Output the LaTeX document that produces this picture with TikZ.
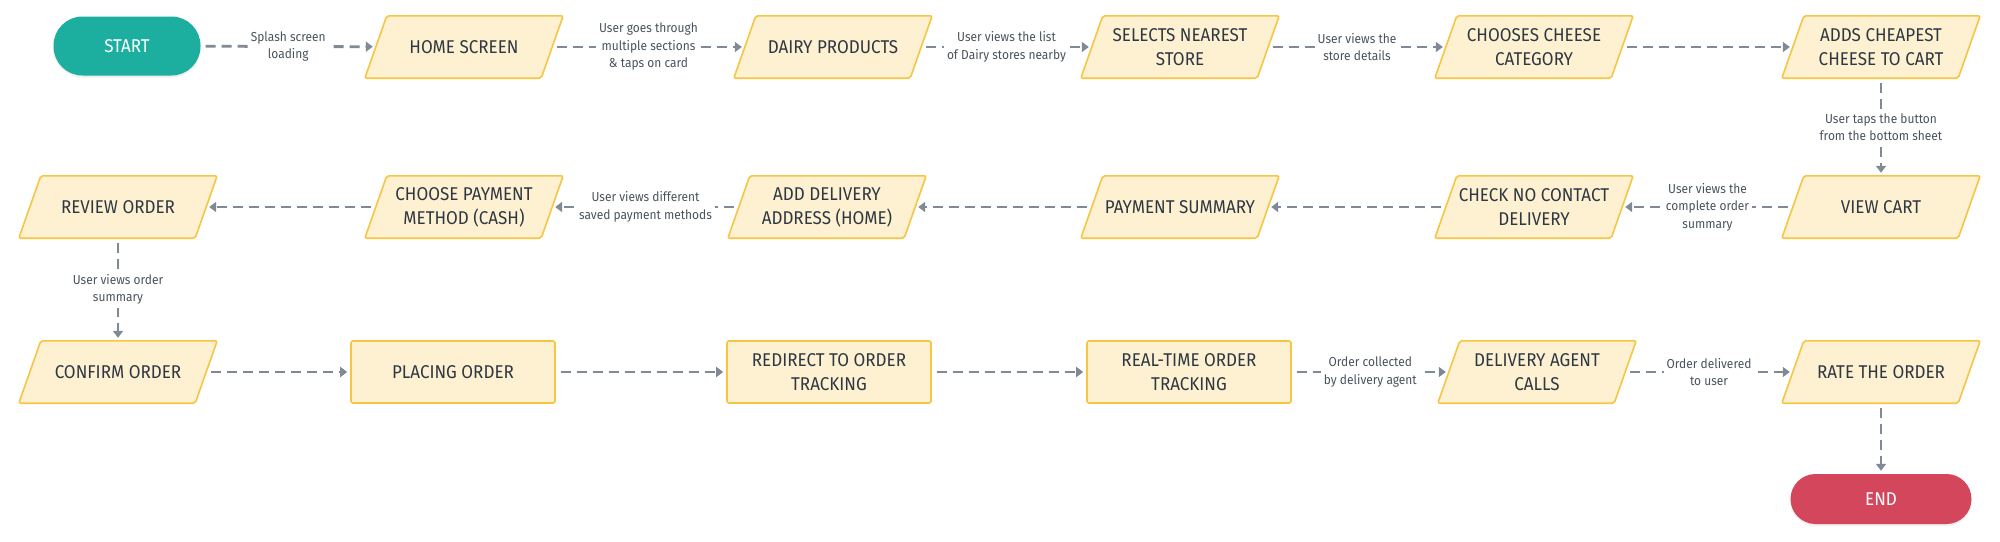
\documentclass[tikz,border=0pt]{standalone}
\usepackage{fontspec}
\setmainfont{Fira Sans}[FakeStretch=0.92]
\usetikzlibrary{arrows.meta,backgrounds,calc,shadows}
\definecolor{boxfill}{HTML}{FDF1D2}
\definecolor{boxline}{HTML}{F6C544}
\definecolor{startc}{HTML}{1CAE9E}
\definecolor{endc}{HTML}{D4465B}
\definecolor{arrowc}{HTML}{7F8A96}
\definecolor{txt}{HTML}{2E3742}
\definecolor{lbl}{HTML}{4A545E}
\begin{document}
\begin{tikzpicture}[x=1pt,y=-1pt,
 base/.style={font=\fontsize{18.5}{24}\selectfont, text=txt, align=center, minimum height=62pt, inner sep=0pt},
 para/.style={base, minimum width=176pt},
 rectbox/.style={base, draw=boxline, fill=boxfill, line width=1.6pt, rounded corners=2pt, minimum width=204pt},
 term/.style={base, text=white, drop shadow={shadow xshift=0pt, shadow yshift=-2pt, opacity=0.12}},
 paraedge/.style={draw=boxline, fill=boxfill, line width=1.6pt, rounded corners=2pt},
 flow/.style={draw=arrowc, line width=2.8pt, dash pattern=on 10pt off 6pt, -{Triangle[width=10pt,length=7pt]}, shorten <=5pt, shorten >=3pt},
 elbl/.style={fill=white, font=\fontsize{13}{17.5}\selectfont, text=lbl, align=center, inner sep=3pt}
]
\useasboundingbox (0,0) rectangle (2000,541);

\node[term, fill=startc, minimum width=147pt, minimum height=59pt, rounded corners=29pt] (start) at (127,46) {START};
\node[para] (home) at (464,47) {HOME SCREEN};
\node[para] (dairy) at (833,47) {DAIRY PRODUCTS};
\node[para] (store) at (1180,47) {SELECTS NEAREST\\STORE};
\node[para] (cat) at (1534,47) {CHOOSES CHEESE\\CATEGORY};
\node[para] (add) at (1881,47) {ADDS CHEAPEST\\CHEESE TO CART};
\node[para] (cart) at (1881,207) {VIEW CART};
\node[para] (contact) at (1534,207) {CHECK NO CONTACT\\DELIVERY};
\node[para] (paysum) at (1180,207) {PAYMENT SUMMARY};
\node[para] (addr) at (827,207) {ADD DELIVERY\\ADDRESS (HOME)};
\node[para] (method) at (464,207) {CHOOSE PAYMENT\\METHOD (CASH)};
\node[para] (review) at (118,207) {REVIEW ORDER};
\node[para] (confirm) at (118,372) {CONFIRM ORDER};
\node[rectbox] (placing) at (453,372) {PLACING ORDER};
\node[rectbox] (redirect) at (829,372) {REDIRECT TO ORDER\\TRACKING};
\node[rectbox] (realtime) at (1189,372) {REAL-TIME ORDER\\TRACKING};
\node[para] (agent) at (1537,372) {DELIVERY AGENT\\CALLS};
\node[para] (rate) at (1881,372) {RATE THE ORDER};
\node[term, fill=endc, minimum width=181pt, minimum height=50pt, rounded corners=25pt] (end) at (1881,499) {END};

\begin{scope}[on background layer]
\fill[white] (0,0) rectangle (2000,541);
\foreach \n in {home,dairy,store,cat,add,cart,contact,paysum,addr,method,review,confirm,agent,rate}
  \path[paraedge] ($(\n.north west)+(11,0)$) -- ($(\n.north east)+(11,0)$) -- ($(\n.south east)-(11,0)$) -- ($(\n.south west)-(11,0)$) -- cycle;
\end{scope}

\draw[flow] (start) -- node[elbl]{Splash screen\\loading} (home);
\draw[flow] (home) -- node[elbl]{User goes through\\multiple sections\\\& taps on card} (dairy);
\draw[flow] (dairy) -- node[elbl]{User views the list\\of Dairy stores nearby} (store);
\draw[flow] (store) -- node[elbl]{User views the\\store details} (cat);
\draw[flow] (cat) -- (add);
\draw[flow] (add) -- node[elbl]{User taps the button\\from the bottom sheet} (cart);
\draw[flow] (cart) -- node[elbl]{User views the\\complete order\\summary} (contact);
\draw[flow] (contact) -- (paysum);
\draw[flow] (paysum) -- (addr);
\draw[flow] (addr) -- node[elbl]{User views different\\saved payment methods} (method);
\draw[flow] (method) -- (review);
\draw[flow] (review) -- node[elbl]{User views order\\summary} (confirm);
\draw[flow] (confirm) -- (placing);
\draw[flow] (placing) -- (redirect);
\draw[flow] (redirect) -- (realtime);
\draw[flow] (realtime) -- node[elbl]{Order collected\\by delivery agent} (agent);
\draw[flow] (agent) -- node[elbl]{Order delivered\\to user} (rate);
\draw[flow] (rate) -- (end);
\end{tikzpicture}
\end{document}
